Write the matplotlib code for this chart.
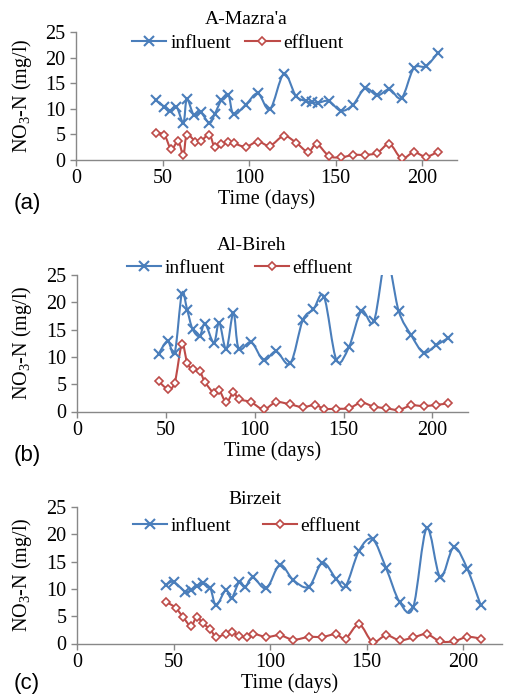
import numpy as np
import matplotlib
matplotlib.use("Agg")
import matplotlib.pyplot as plt
from matplotlib.path import Path
from matplotlib.patches import PathPatch
from matplotlib.lines import Line2D

plt.rcParams['font.family'] = ['Liberation Serif', 'DejaVu Serif']
plt.rcParams['mathtext.fontset'] = 'custom'
plt.rcParams['mathtext.rm'] = 'Liberation Serif'

# ---- data ----
titles = ["A-Mazra'a", "Al-Bireh", "Birzeit"]
panel_tags = ["(a)", "(b)", "(c)"]

a_in_x = [46, 51, 54, 58, 62, 64, 68, 72, 77, 80, 84, 88, 91, 98, 105, 112, 120, 127, 133, 136,
          140, 146, 153, 160, 167, 174, 181, 188, 195, 202, 209]
a_in_y = [11.7, 10.4, 9.6, 10.4, 7.3, 11.9, 8.8, 9.3, 7.2, 8.9, 11.7, 12.7, 8.9, 10.8, 13.0, 9.9,
          16.8, 12.5, 11.5, 11.3, 11.2, 11.5, 9.6, 10.8, 14.0, 12.6, 13.8, 12.1, 17.9, 18.3, 20.9]
a_ef_x = [46, 51, 55, 59, 62, 64, 69, 72, 77, 80, 84, 88, 91, 98, 105, 112, 120, 127, 134, 139,
          146, 153, 160, 167, 174, 181, 188, 195, 202, 209]
a_ef_y = [5.2, 4.9, 2.1, 3.7, 1.0, 4.9, 3.6, 3.7, 4.9, 2.6, 3.1, 3.6, 3.3, 2.6, 3.6, 2.8, 4.7, 3.4,
          1.6, 3.1, 0.8, 0.5, 1.0, 1.0, 1.4, 3.1, 0.3, 1.5, 0.65, 1.6]

b_in_x = [46, 51, 55, 59, 62, 65, 69, 72, 77, 80, 84, 88, 91, 98, 105, 112, 120, 127, 133, 139,
          146, 153, 160, 167, 174, 181, 188, 195, 202, 209]
b_in_y = [10.6, 12.9, 10.8, 21.6, 18.6, 15.1, 13.8, 16.1, 12.6, 16.3, 11.4, 18.1, 11.5, 12.7, 9.4,
          11.0, 8.8, 16.7, 18.7, 21.0, 9.4, 11.8, 18.4, 16.5, 28.0, 18.4, 14.0, 10.8, 12.1, 13.5]
b_ef_x = [46, 51, 55, 59, 62, 65, 69, 72, 77, 80, 84, 88, 91, 98, 105, 112, 120, 127, 134, 139,
          146, 153, 160, 167, 174, 181, 188, 195, 202, 209]
b_ef_y = [5.5, 4.2, 5.3, 12.3, 8.9, 7.7, 7.35, 5.4, 3.4, 3.9, 1.7, 3.5, 2.3, 1.7, 0.4, 1.7, 1.3, 0.8,
          1.2, 0.5, 0.5, 0.6, 1.6, 0.9, 0.6, 0.3, 1.1, 1.0, 1.2, 1.5]

c_in_x = [46, 50, 56, 59, 62, 65, 69, 72, 77, 80, 84, 87, 91, 98, 105, 112, 120, 127, 134, 139,
          146, 153, 160, 167, 174, 181, 188, 195, 202, 209]
c_in_y = [10.7, 11.3, 9.5, 9.8, 10.5, 11.0, 10.1, 7.0, 9.8, 8.3, 11.3, 10.3, 12.1, 10.1, 14.4, 11.6,
          10.4, 14.8, 11.9, 10.5, 17.0, 19.1, 13.8, 7.6, 6.6, 21.1, 12.2, 17.6, 13.7, 7.0]
c_ef_x = [46, 51, 55, 59, 62, 65, 69, 72, 77, 80, 84, 88, 91, 98, 105, 112, 120, 127, 134, 139,
          146, 153, 160, 167, 174, 181, 188, 195, 202, 209]
c_ef_y = [7.65, 6.55, 4.8, 3.2, 4.9, 3.7, 2.6, 1.2, 1.8, 2.1, 1.35, 1.1, 1.8, 1.2, 1.5, 0.7, 1.2, 1.2,
          1.7, 0.9, 3.5, 0.3, 1.5, 0.6, 1.1, 1.7, 0.4, 0.4, 1.2, 0.9]

series = [
    (a_in_x, a_in_y, a_ef_x, a_ef_y),
    (b_in_x, b_in_y, b_ef_x, b_ef_y),
    (c_in_x, c_in_y, c_ef_x, c_ef_y),
]

x_ticks = [0, 50, 100, 150, 200]
y_ticks = [0, 5, 10, 15, 20, 25]

BLUE = "#4A7EBB"
RED = "#BE4B48"
GREY = "#888888"
W, H = 505, 700
FS = 14.5


def smooth_path(x, y):
    # Excel-like smoothed line (Catmull-Rom as cubic Bezier)
    pts = np.column_stack([x, y]).astype(float)
    n = len(pts)
    verts = [pts[0]]
    codes = [Path.MOVETO]
    for i in range(n - 1):
        p0 = pts[i - 1] if i > 0 else pts[i]
        p1, p2 = pts[i], pts[i + 1]
        p3 = pts[i + 2] if i + 2 < n else pts[i + 1]
        verts += [p1 + (p2 - p0) / 6, p2 - (p3 - p1) / 6, p2]
        codes += [Path.CURVE4] * 3
    return Path(verts, codes)


# axes boxes in pixels: left, right, top, bottom
boxes = [(76, 457, 32, 160), (77, 468, 275, 411.5), (77, 502, 507, 643.5)]
title_pos = [(246, 20), (252, 245), (255, 500)]
legend_pos = [(238, 43), (240, 268), (247, 526)]
legend_colsp = [0.75, 1.5, 1.6]
tag_y = [203, 456, 684]

fig = plt.figure(figsize=(W / 100, H / 100), dpi=100)

for k in range(3):
    l, r, t, b = boxes[k]
    ax = fig.add_axes([l / W, 1 - b / H, (r - l) / W, (b - t) / H])
    xi, yi, xe, ye = series[k]

    ax.add_patch(PathPatch(smooth_path(xi, yi), fill=False, ec=BLUE, lw=1.5, zorder=2))
    ax.add_patch(PathPatch(smooth_path(xe, ye), fill=False, ec=RED, lw=1.5, zorder=2))
    ax.plot(xi, yi, ls="none", marker="x", ms=7, mew=1.5, color=BLUE, zorder=3)
    ax.plot(xe, ye, ls="none", marker="D", ms=4.5, mew=1.2, mec=RED, mfc="white", zorder=3)

    ax.set_xlim(0, 220)
    ax.set_ylim(0, 25)
    ax.set_xticks(x_ticks)
    ax.set_yticks(y_ticks)
    for s in ["top", "right"]:
        ax.spines[s].set_visible(False)
    for s in ["left", "bottom"]:
        ax.spines[s].set_color(GREY)
        ax.spines[s].set_linewidth(1.0)
    ax.tick_params(axis="both", colors=GREY, labelcolor="black", labelsize=FS,
                   direction="out", length=4.5, width=1.0)
    ax.tick_params(axis="x", pad=2)
    ax.tick_params(axis="y", pad=3)
    ax.set_xlabel("Time (days)", fontsize=FS, labelpad=1)
    ax.set_ylabel(r"$\mathregular{NO_3}$-N (mg/l)", fontsize=FS)
    ax.yaxis.set_label_coords(-(l - 34) / (r - l), 0.5)

    fig.text(title_pos[k][0] / W, 1 - title_pos[k][1] / H, titles[k],
             ha="center", va="center", fontsize=14)

    handles = [
        Line2D([], [], color=BLUE, lw=1.5, marker="x", ms=7, mew=1.5),
        Line2D([], [], color=RED, lw=1.5, marker="D", ms=4.5, mew=1.2, mec=RED, mfc="white"),
    ]
    ax.legend(handles, ["influent", "effluent"], ncol=2, loc="center",
              bbox_to_anchor=(legend_pos[k][0] / W, 1 - legend_pos[k][1] / H),
              bbox_transform=fig.transFigure, frameon=False, fontsize=14,
              handlelength=1.75, handletextpad=0.2, columnspacing=legend_colsp[k],
              borderpad=0, borderaxespad=0)

    fig.text(14 / W, 1 - tag_y[k] / H, panel_tags[k], ha="left", va="center",
             fontsize=16, family="Liberation Sans")

fig.savefig("out.png", dpi=100)
